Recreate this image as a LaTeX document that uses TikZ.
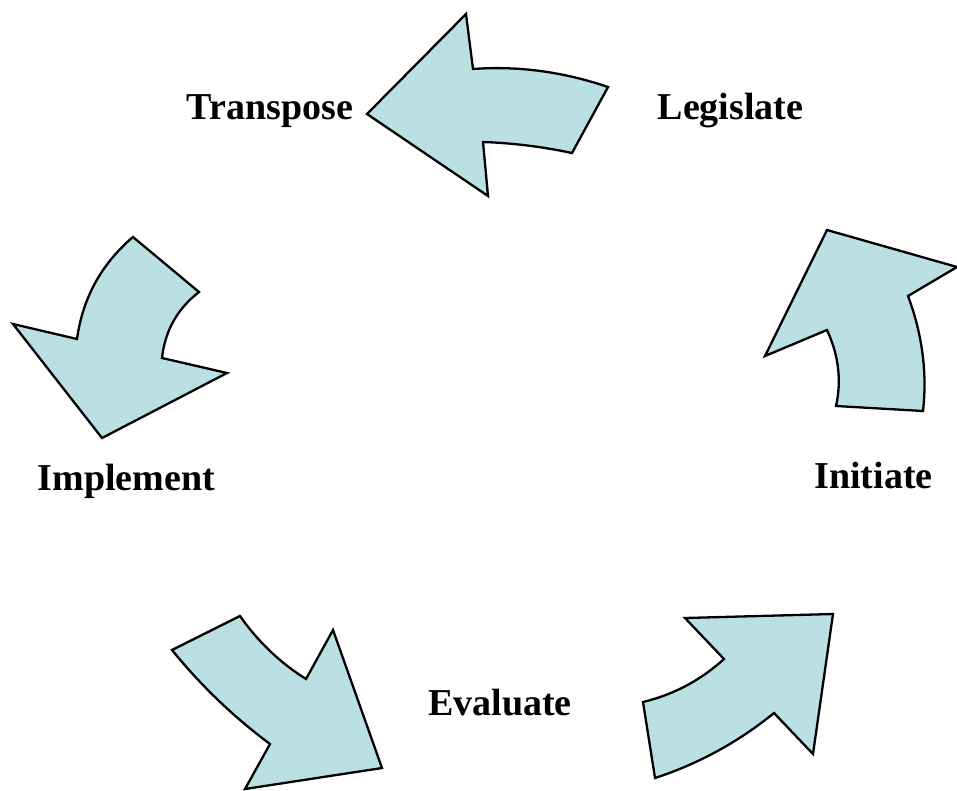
\documentclass[tikz,border=0pt]{standalone}
\usepackage{fontspec}
\setmainfont{Liberation Serif}
\begin{document}
\begin{tikzpicture}[x=1pt,y=-1pt,
  cyclearrow/.style={draw=black,line width=2.3pt,line join=miter,fill=arrowfill},
  steplabel/.style={inner sep=0pt,anchor=base,font=\fontsize{38}{44}\selectfont\bfseries}]
\definecolor{arrowfill}{RGB}{187,224,227}
\useasboundingbox (0,0) rectangle (957,790);

% Legislate -> Transpose
\draw[cyclearrow] (367,114) -- (466,14) -- (473,69)
  .. controls (518,65.7) and (563,71.7) .. (608,87) -- (572,153)
  .. controls (542.3,146.7) and (512.7,143) .. (483,142) -- (488,196) -- cycle;

% Initiate -> Legislate
\draw[cyclearrow] (827,230) -- (957,267) -- (908,296)
  .. controls (922.3,334.3) and (927.3,372.7) .. (923,411) -- (836,406)
  .. controls (841.7,380.7) and (838.7,355.3) .. (827,330) -- (765,356) -- cycle;

% Transpose -> Implement
\draw[cyclearrow] (133,237) -- (199,292)
  .. controls (177.3,308.8) and (165,330.8) .. (162,358) -- (227,373) -- (102,438)
  -- (13,324) -- (77,339) .. controls (82.7,297.9) and (101.4,263.9) .. cycle;

% Implement -> Evaluate
\draw[cyclearrow] (172,650) -- (240,616)
  .. controls (258,641.7) and (280,662.7) .. (306,679) -- (333,630) -- (382,768)
  -- (245,789) -- (270,744) .. controls (233.3,716.7) and (200.7,685.3) .. cycle;

% Evaluate -> Initiate
\draw[cyclearrow] (685,618) -- (833,614) -- (813,754) -- (774,713)
  .. controls (738.3,742) and (698.7,763.7) .. (655,778) -- (643,702)
  .. controls (673.6,694.6) and (700.6,680.3) .. (724,659) -- cycle;

\node[steplabel] (transpose) at (270,119.5) {Transpose};
\node[steplabel] (legislate) at (730.5,119.5) {Legislate};
\node[steplabel] (implement) at (126.5,490) {Implement};
\node[steplabel] (initiate) at (873.5,488) {Initiate};
\node[steplabel] (evaluate) at (500,715) {Evaluate};
\end{tikzpicture}
\end{document}
